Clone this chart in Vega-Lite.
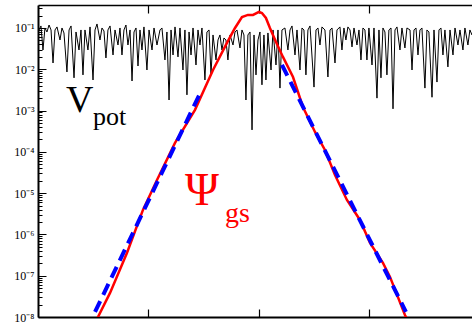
{
"$schema": "https://vega.github.io/schema/vega-lite/v6.json",
"width": 434, "height": 312,
"autosize": "none",
"padding": {"left": 38, "top": 5, "right": 0, "bottom": 8},
"config": {"view": {"stroke": null}, "axis": {"grid": false, "title": null}},
"datasets": {
"vpot": [
{"x":0.9,"v":0.0895},{"x":2.7,"v":0.112},{"x":4.5,"v":0.0293},{"x":6.3,"v":0.1},{"x":8.1,"v":0.08},{"x":10.0,"v":0.118},{"x":11.8,"v":0.0895},{"x":13.6,"v":0.0142},{"x":15.4,"v":0.0895},{"x":17.2,"v":0.106},{"x":19.9,"v":0.0512},{"x":21.7,"v":0.1},{"x":23.5,"v":0.0757},{"x":26.2,"v":0.0086},{"x":28.1,"v":0.0895},{"x":29.9,"v":0.112},{"x":32.6,"v":0.0062},{"x":34.4,"v":0.08},{"x":37.1,"v":0.0293},{"x":38.9,"v":0.0895},{"x":40.7,"v":0.0073},{"x":42.5,"v":0.0895},{"x":45.2,"v":0.0293},{"x":47.1,"v":0.106},{"x":49.8,"v":0.0055},{"x":51.6,"v":0.0895},{"x":53.4,"v":0.125},{"x":56.1,"v":0.0512},{"x":57.9,"v":0.1},{"x":59.7,"v":0.0846},{"x":61.5,"v":0.0188},{"x":63.3,"v":0.0895},{"x":65.2,"v":0.112},{"x":67.9,"v":0.0222},{"x":69.7,"v":0.0895},{"x":72.4,"v":0.0387},{"x":74.2,"v":0.1},{"x":76.0,"v":0.0222},{"x":77.8,"v":0.0895},{"x":79.6,"v":0.118},{"x":81.4,"v":0.0387},{"x":83.3,"v":0.0895},{"x":85.1,"v":0.0052},{"x":86.9,"v":0.08},{"x":88.7,"v":0.1},{"x":90.5,"v":0.012},{"x":92.3,"v":0.0895},{"x":94.1,"v":0.0293},{"x":95.9,"v":0.106},{"x":98.6,"v":0.0096},{"x":100.5,"v":0.0895},{"x":103.2,"v":0.0293},{"x":105.0,"v":0.1},{"x":107.7,"v":0.0387},{"x":110.4,"v":0.0895},{"x":112.2,"v":0.1},{"x":114.9,"v":0.0168},{"x":116.7,"v":0.08},{"x":118.6,"v":0.0018},{"x":120.4,"v":0.0895},{"x":122.2,"v":0.0222},{"x":124.0,"v":0.106},{"x":126.7,"v":0.0199},{"x":128.5,"v":0.1},{"x":131.2,"v":0.0096},{"x":133.0,"v":0.0895},{"x":134.8,"v":0.0024},{"x":136.7,"v":0.08},{"x":138.5,"v":0.0222},{"x":140.3,"v":0.1},{"x":143.0,"v":0.0127},{"x":144.8,"v":0.0895},{"x":146.6,"v":0.0387},{"x":148.4,"v":0.1},{"x":151.1,"v":0.0055},{"x":152.9,"v":0.08},{"x":154.8,"v":0.0895},{"x":156.6,"v":0.0073},{"x":158.4,"v":0.0677},{"x":161.1,"v":0.0168},{"x":162.9,"v":0.0512},{"x":164.7,"v":0.0677},{"x":166.5,"v":0.0293},{"x":168.3,"v":0.0573},{"x":170.1,"v":0.0512},{"x":171.9,"v":0.0168},{"x":173.8,"v":0.0677},{"x":176.5,"v":0.0387},{"x":178.3,"v":0.08},{"x":180.1,"v":0.0895},{"x":182.8,"v":0.0328},{"x":184.6,"v":0.0895},{"x":186.4,"v":0.0677},{"x":188.2,"v":0.0018},{"x":190.0,"v":0.0677},{"x":191.9,"v":0.08},{"x":193.7,"v":0.00034},{"x":195.5,"v":0.0677},{"x":197.3,"v":0.0073},{"x":199.1,"v":0.0512},{"x":200.9,"v":0.08},{"x":202.7,"v":0.0042},{"x":204.5,"v":0.0677},{"x":206.3,"v":0.0055},{"x":208.1,"v":0.0757},{"x":210.9,"v":0.0096},{"x":212.7,"v":0.0895},{"x":215.4,"v":0.0127},{"x":217.2,"v":0.0895},{"x":219.0,"v":0.0035},{"x":220.8,"v":0.0895},{"x":223.5,"v":0.1},{"x":226.2,"v":0.0293},{"x":228.1,"v":0.0895},{"x":229.9,"v":0.112},{"x":232.6,"v":0.0222},{"x":234.4,"v":0.0895},{"x":237.1,"v":0.0096},{"x":238.9,"v":0.1},{"x":240.7,"v":0.0895},{"x":242.5,"v":0.0073},{"x":244.3,"v":0.0895},{"x":246.2,"v":0.112},{"x":249.8,"v":0.0037},{"x":251.6,"v":0.0895},{"x":253.4,"v":0.1},{"x":255.2,"v":0.0387},{"x":257.0,"v":0.106},{"x":259.7,"v":0.0895},{"x":262.4,"v":0.0065},{"x":264.3,"v":0.0895},{"x":266.1,"v":0.1},{"x":268.8,"v":0.0142},{"x":270.6,"v":0.0895},{"x":273.3,"v":0.106},{"x":275.1,"v":0.0293},{"x":276.9,"v":0.1},{"x":278.7,"v":0.0512},{"x":280.5,"v":0.106},{"x":282.4,"v":0.0895},{"x":284.2,"v":0.0347},{"x":286.0,"v":0.1},{"x":288.7,"v":0.0387},{"x":290.5,"v":0.0895},{"x":292.3,"v":0.0168},{"x":294.1,"v":0.1},{"x":295.9,"v":0.0895},{"x":297.7,"v":0.0168},{"x":299.5,"v":0.1},{"x":302.3,"v":0.0127},{"x":304.1,"v":0.1},{"x":306.8,"v":0.002},{"x":308.6,"v":0.0895},{"x":310.4,"v":0.0062},{"x":312.2,"v":0.1},{"x":314.0,"v":0.08},{"x":315.8,"v":0.0073},{"x":317.6,"v":0.0895},{"x":319.5,"v":0.1},{"x":321.3,"v":0.0011},{"x":323.1,"v":0.0895},{"x":324.9,"v":0.106},{"x":327.6,"v":0.0293},{"x":329.4,"v":0.1},{"x":332.1,"v":0.0328},{"x":333.9,"v":0.1},{"x":336.7,"v":0.0895},{"x":338.5,"v":0.0096},{"x":340.3,"v":0.0895},{"x":342.1,"v":0.1},{"x":343.9,"v":0.0222},{"x":345.7,"v":0.0895},{"x":347.5,"v":0.1},{"x":350.2,"v":0.0035},{"x":352.0,"v":0.0895},{"x":353.8,"v":0.08},{"x":356.6,"v":0.0021},{"x":358.4,"v":0.0895},{"x":361.1,"v":0.0049},{"x":362.9,"v":0.0895},{"x":364.7,"v":0.1},{"x":366.5,"v":0.0222},{"x":368.3,"v":0.0895},{"x":371.0,"v":0.0114},{"x":372.9,"v":0.0895},{"x":375.6,"v":0.0222},{"x":377.4,"v":0.1},{"x":380.1,"v":0.0387},{"x":381.9,"v":0.0895},{"x":384.6,"v":0.0293},{"x":386.4,"v":0.1},{"x":389.1,"v":0.0387},{"x":390.9,"v":0.0895},{"x":392.8,"v":0.0677},{"x":394.6,"v":0.0895}
],
"psi": [
{"x":52.5,"v":7.5e-9},{"x":54.3,"v":1e-8},{"x":65.2,"v":3.84e-8},{"x":80.5,"v":3.56e-7},{"x":95.0,"v":3.92e-6},{"x":107.7,"v":2.09e-5},{"x":124.0,"v":1.64e-4},{"x":142.1,"v":1.04e-3},{"x":158.4,"v":9.6e-3},{"x":171.0,"v":0.0434},{"x":178.3,"v":0.1},{"x":184.6,"v":0.184},{"x":190.0,"v":0.207},{"x":194.6,"v":0.207},{"x":200.0,"v":0.244},{"x":202.7,"v":0.23},{"x":206.3,"v":0.175},{"x":209.9,"v":0.1},{"x":215.4,"v":0.0458},{"x":221.7,"v":0.0199},{"x":230.8,"v":0.0065},{"x":239.8,"v":0.00122},{"x":250.7,"v":3.03e-4},{"x":259.7,"v":1.11e-4},{"x":268.8,"v":2.76e-5},{"x":279.6,"v":6.84e-6},{"x":291.4,"v":2.24e-6},{"x":300.5,"v":6.22e-7},{"x":312.2,"v":2.04e-7},{"x":318.6,"v":9.35e-8},{"x":332.1,"v":1.12e-8},{"x":333.9,"v":9e-9}
],
"fit": [
{"x":51.6,"v":1.33e-8,"seg":"L"},{"x":148.0,"v":0.0031,"seg":"L"},
{"x":220.8,"v":0.0127,"seg":"R"},{"x":333.0,"v":1.33e-8,"seg":"R"}
]
},
"resolve": {"axis": {"x": "independent", "y": "independent"}},
"layer": [
{"data": {"name": "vpot"},
 "mark": {"type": "line", "color": "black", "strokeWidth": 1, "clip": true},
 "encoding": {
  "x": {"field": "x", "type": "quantitative", "scale": {"domain": [0, 392.8], "nice": false, "zero": false},
   "axis": {"orient": "bottom", "values": [100, 200, 300], "labels": false, "tickSize": -8, "tickColor": "black", "tickWidth": 1.2, "domainColor": "black", "domainWidth": 2}},
  "y": {"field": "v", "type": "quantitative", "scale": {"type": "log", "domain": [1e-8, 0.36], "nice": false},
   "axis": {"orient": "left",
    "values": [1e-8,2e-8,3e-8,4e-8,5e-8,6e-8,7e-8,8e-8,9e-8,1e-7,2e-7,3e-7,4e-7,5e-7,6e-7,7e-7,8e-7,9e-7,1e-6,2e-6,3e-6,4e-6,5e-6,6e-6,7e-6,8e-6,9e-6,1e-5,2e-5,3e-5,4e-5,5e-5,6e-5,7e-5,8e-5,9e-5,1e-4,2e-4,3e-4,4e-4,5e-4,6e-4,7e-4,8e-4,9e-4,1e-3,2e-3,3e-3,4e-3,5e-3,6e-3,7e-3,8e-3,9e-3,1e-2,2e-2,3e-2,4e-2,5e-2,6e-2,7e-2,8e-2,9e-2,1e-1,2e-1,3e-1],
    "tickSize": {"condition": {"test": "abs(log(datum.value)/LN10 - round(log(datum.value)/LN10)) < 0.001", "value": -8}, "value": -4},
    "labelExpr": "abs(log(datum.value)/LN10 - round(log(datum.value)/LN10)) < 0.001 ? '10' + ['⁰','⁻¹','⁻²','⁻³','⁻⁴','⁻⁵','⁻⁶','⁻⁷','⁻⁸'][-round(log(datum.value)/LN10)] : ''",
    "labelFont": "Liberation Serif", "labelFontSize": 12, "labelColor": "black", "labelPadding": 12,
    "labelOverlap": false, "labelFlush": false,
    "tickColor": "black", "tickWidth": 1, "domainColor": "black", "domainWidth": 2}}
 }},
{"data": {"name": "psi"},
 "mark": {"type": "line", "color": "#ff0000", "strokeWidth": 2.5, "clip": true},
 "encoding": {
  "x": {"field": "x", "type": "quantitative", "scale": {"domain": [0, 392.8], "nice": false, "zero": false},
   "axis": {"orient": "top", "values": [100, 200, 300], "labels": false, "tickSize": -8, "tickColor": "black", "tickWidth": 1.2, "domainColor": "black", "domainWidth": 1.5}},
  "y": {"field": "v", "type": "quantitative", "scale": {"type": "log", "domain": [1e-8, 0.36], "nice": false}, "axis": null}
 }},
{"data": {"name": "fit"},
 "mark": {"type": "line", "color": "#0000ff", "strokeWidth": 4, "strokeDash": [12, 7], "clip": true},
 "encoding": {
  "x": {"field": "x", "type": "quantitative", "axis": null},
  "y": {"field": "v", "type": "quantitative", "axis": null},
  "detail": {"field": "seg", "type": "nominal"}
 }},
{"data": {"values": [{"t": "V", "x": 25.3, "v": 9.2e-4}]},
 "mark": {"type": "text", "font": "Liberation Serif", "fontSize": 38, "color": "black", "align": "left", "baseline": "alphabetic"},
 "encoding": {"x": {"field": "x", "type": "quantitative", "axis": null}, "y": {"field": "v", "type": "quantitative", "axis": null}, "text": {"field": "t"}}},
{"data": {"values": [{"t": "pot", "x": 49.8, "v": 4.48e-4}]},
 "mark": {"type": "text", "font": "Liberation Serif", "fontSize": 26, "color": "black", "align": "left", "baseline": "alphabetic"},
 "encoding": {"x": {"field": "x", "type": "quantitative", "axis": null}, "y": {"field": "v", "type": "quantitative", "axis": null}, "text": {"field": "t"}}},
{"data": {"values": [{"t": "Ψ", "x": 133.0, "v": 5.18e-6}]},
 "mark": {"type": "text", "font": "Liberation Serif", "fontSize": 46, "color": "#ff0000", "align": "left", "baseline": "alphabetic"},
 "encoding": {"x": {"field": "x", "type": "quantitative", "axis": null}, "y": {"field": "v", "type": "quantitative", "axis": null}, "text": {"field": "t"}}},
{"data": {"values": [{"t": "gs", "x": 169.2, "v": 2.01e-6}]},
 "mark": {"type": "text", "font": "Liberation Serif", "fontSize": 28, "color": "#ff0000", "align": "left", "baseline": "alphabetic"},
 "encoding": {"x": {"field": "x", "type": "quantitative", "axis": null}, "y": {"field": "v", "type": "quantitative", "axis": null}, "text": {"field": "t"}}}
]
}
